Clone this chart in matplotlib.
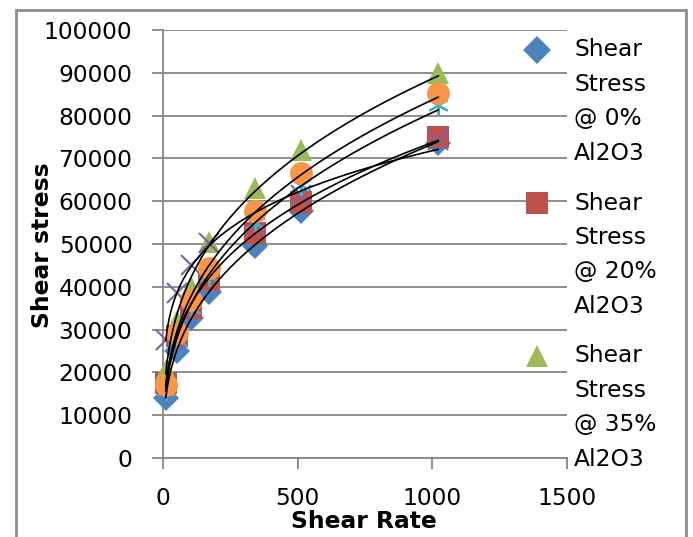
import numpy as np
import matplotlib
matplotlib.use("Agg")
import matplotlib.pyplot as plt
from matplotlib.patches import Rectangle

plt.rcParams['font.family'] = ['DejaVu Sans']

# Data
shear_rate = [10.2, 51.1, 102.2, 170.3, 340.6, 510.9, 1021.8]
stress_0 = [14000, 25000, 32800, 38900, 49500, 57700, 73500]
stress_20 = [17500, 28500, 35000, 41800, 52500, 59900, 75000]
stress_35 = [20500, 32000, 40000, 50500, 63000, 72000, 90000]
stress_x = [27500, 38500, 45000, 50200, 55000, 61500, 74300]
stress_star = [16000, 27500, 35000, 42500, 55000, 63800, 82500]
stress_o = [17000, 29200, 37000, 44300, 57600, 66500, 85200]

labels = ["Shear\nStress\n@ 0%\nAl2O3", "Shear\nStress\n@ 20%\nAl2O3", "Shear\nStress\n@ 35%\nAl2O3"]
x_ticks = [0, 500, 1000, 1500]
y_ticks = list(range(0, 100001, 10000))

series = [
    (stress_0, 'D', '#4F81BD', 13.5),
    (stress_20, 's', '#C0504D', 16),
    (stress_35, '^', '#9BBB59', 16.5),
    (stress_x, 'x', '#8064A2', 15),
    (stress_star, '*', '#4BACC6', 15),
    (stress_o, 'o', '#F79646', 16.5),
]

W, H = 693, 537
FS = 16.8
fig = plt.figure(figsize=(W / 100, H / 100), dpi=100)
# plot area: x 163..567 px, y 30..458 px
ax = fig.add_axes([163 / W, 1 - 458 / H, (567 - 163) / W, (458 - 30) / H])
ax.set_xlim(0, 1500)
ax.set_ylim(0, 100000)

gridc = '#868686'
ax.set_yticks(y_ticks)
ax.set_xticks(x_ticks)
ax.grid(axis='y', color=gridc, linewidth=1.3)
ax.set_axisbelow(True)
for s in ['top', 'right']:
    ax.spines[s].set_visible(False)
for s in ['left', 'bottom']:
    ax.spines[s].set_color(gridc)
    ax.spines[s].set_linewidth(1.3)
ax.tick_params(axis='both', colors=gridc, length=8, width=1.3, direction='out',
               labelcolor='#000000', labelsize=FS)
ax.tick_params(axis='y', pad=14)
ax.tick_params(axis='x', pad=13)

xs = np.array(shear_rate)
for vals, m, c, ms in series:
    if m == 'x':
        ax.plot(xs, vals, linestyle='none', marker=m, color=c, markersize=ms,
                markeredgewidth=1.5, zorder=3, clip_on=False)
    elif m == '*':
        ax.plot(xs, vals, linestyle='none', marker=(6, 2, 0), color=c, markersize=ms,
                markeredgewidth=1.5, zorder=3, clip_on=False)
    else:
        ax.plot(xs, vals, linestyle='none', marker=m, color=c, markersize=ms,
                markeredgewidth=0, zorder=3, clip_on=False)

# power trendlines
xfit = np.linspace(xs.min(), xs.max(), 400)
for vals, m, c, ms in series:
    b, lna = np.polyfit(np.log(xs), np.log(vals), 1)
    ax.plot(xfit, np.exp(lna) * xfit ** b, color='black', linewidth=1.2, zorder=4)

ax.set_xlabel("Shear Rate", fontsize=FS, fontweight='bold')
ax.set_ylabel("Shear stress", fontsize=FS, fontweight='bold')
ax.xaxis.label.set_va('center')
ax.yaxis.label.set_va('center')
ax.xaxis.set_label_coords((364 - 163) / (567 - 163), -(522 - 458) / (458 - 30))
ax.yaxis.set_label_coords(-(163 - 43) / (567 - 163), (458 - 245) / (458 - 30))

# legend (manual)
leg_marks = [('D', '#4F81BD', 14), ('s', '#C0504D', 15.5), ('^', '#9BBB59', 15.5)]
for i, (lab, (m, c, ms)) in enumerate(zip(labels, leg_marks)):
    ytop = 50 + i * 153
    fig.lines.append(plt.Line2D([537 / W], [1 - ytop / H], marker=m, color=c,
                                markersize=ms, markeredgewidth=0, linestyle='none',
                                transform=fig.transFigure))
    for k, line in enumerate(lab.split("\n")):
        fig.text(574 / W, 1 - (ytop + k * 34.4) / H, line, fontsize=FS,
                 va='center', ha='left')

# outer frame
fig.patches.append(Rectangle((16 / W, -0.05), (686 - 16) / W, 1 - 10 / H + 0.05,
                             transform=fig.transFigure, fill=False,
                             edgecolor='#8C8C8C', linewidth=2))

fig.savefig("out.png", dpi=100)
